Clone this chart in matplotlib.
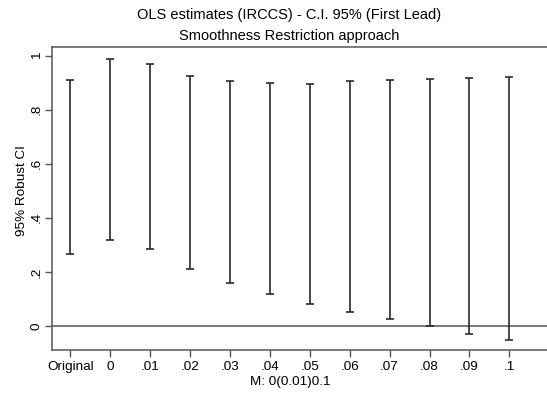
import matplotlib.pyplot as plt
import numpy as np

# confidence intervals
labels = ['Original', '0', '.01', '.02', '.03', '.04', '.05', '.06', '.07', '.08', '.09', '.1']
ci_low = [0.266, 0.317, 0.285, 0.211, 0.159, 0.118, 0.080, 0.053, 0.026, -0.001, -0.028, -0.053]
ci_high = [0.909, 0.988, 0.968, 0.924, 0.906, 0.899, 0.895, 0.906, 0.910, 0.914, 0.917, 0.921]
yticks = [0, 0.2, 0.4, 0.6, 0.8, 1]
ytick_labels = ['0', '.2', '.4', '.6', '.8', '1']

plt.rcParams['font.family'] = ['Liberation Sans', 'DejaVu Sans']

W, H = 547, 393
fig = plt.figure(figsize=(W / 100, H / 100), dpi=100)
# plot region: left 52px, top 47px, bottom 350px, right edge cut off by the crop
ax = fig.add_axes([52 / W, 1 - 350 / H, (562 - 52) / W, (350 - 47) / H])

x = np.arange(len(labels))
ax.vlines(x, ci_low, ci_high, color='#2b2b2b', lw=1.2)
ax.hlines(ci_low, x - 0.1, x + 0.1, color='#2b2b2b', lw=1.2)
ax.hlines(ci_high, x - 0.1, x + 0.1, color='#2b2b2b', lw=1.2)
ax.axhline(0, color='#555555', lw=1.1, zorder=0)

ax.set_xlim(-0.46, 12.32)
ax.set_ylim(-0.089, 1.032)

ax.set_xticks(x)
ax.set_xticklabels(labels, fontsize=9.7)
ax.set_yticks(yticks)
ax.set_yticklabels(ytick_labels, fontsize=9.7, rotation=90, va='center')
ax.tick_params(length=5, width=1, color='#555555', pad=3)
ax.tick_params(axis='y', pad=1.5)

for s in ['left', 'bottom', 'top', 'right']:
    ax.spines[s].set_color('#555555')
    ax.spines[s].set_linewidth(1.1)

fig.text(289 / W, 1 - 15 / H, 'OLS estimates (IRCCS) - C.I. 95% (First Lead)',
         ha='center', va='center', fontsize=10.5)
fig.text(289 / W, 1 - 36 / H, 'Smoothness Restriction approach',
         ha='center', va='center', fontsize=10.5)
fig.text(290 / W, 1 - 382 / H, 'M: 0(0.01)0.1', ha='center', va='center', fontsize=9.7)
fig.text(22 / W, 1 - 191 / H, '95% Robust CI', ha='center', va='center',
         rotation=90, fontsize=9.7)

fig.savefig('out.png', dpi=100)
